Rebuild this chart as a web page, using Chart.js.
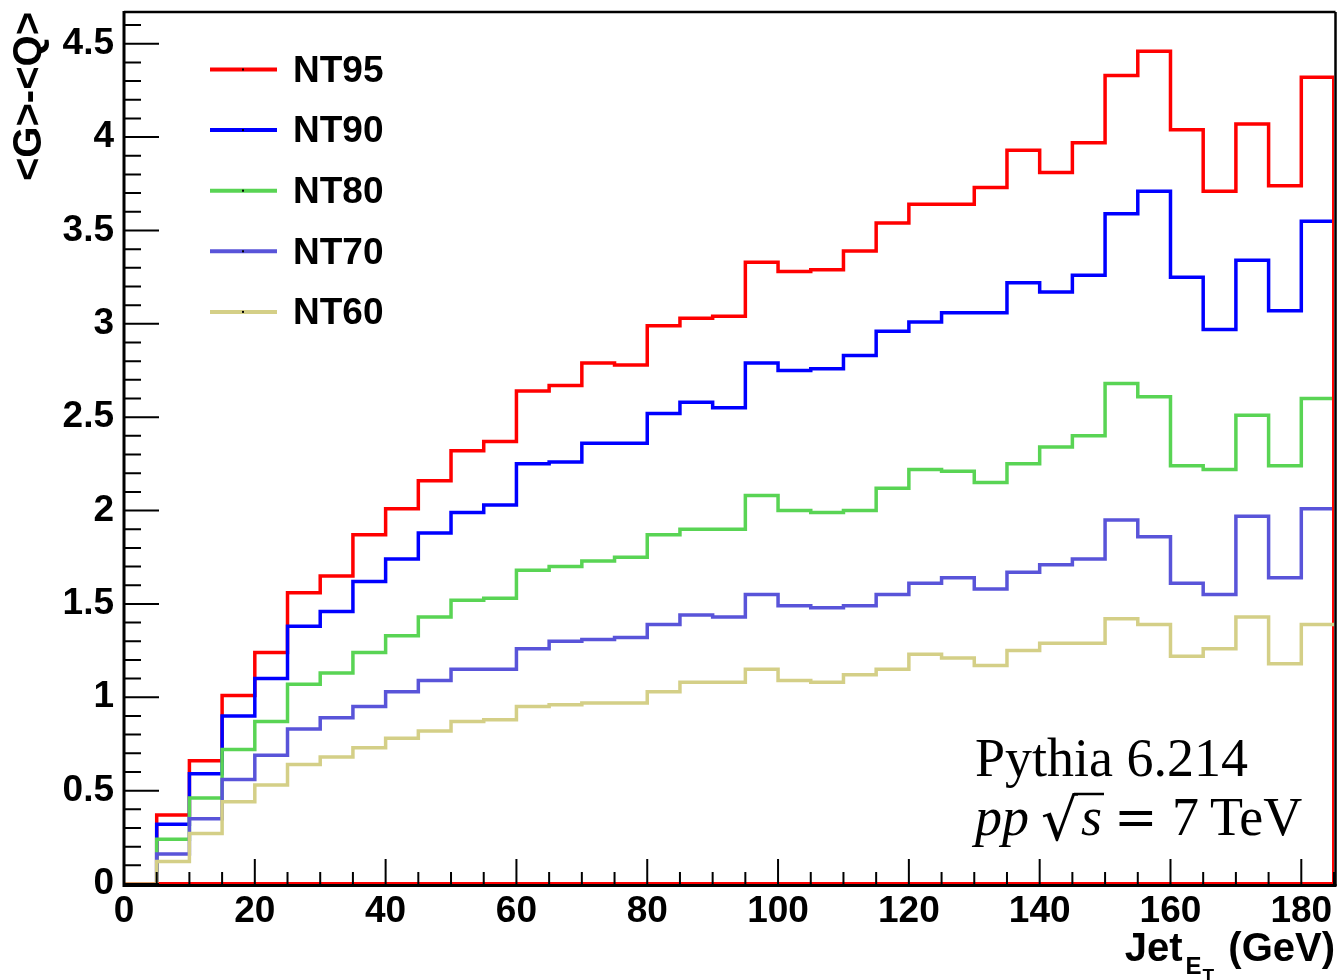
<!DOCTYPE html>
<html>
<head>
<meta charset="utf-8">
<title>Jet ET</title>
<script src="https://cdn.jsdelivr.net/npm/chart.js@4.4.0/dist/chart.umd.min.js"></script>
<style>
  html, body { margin: 0; padding: 0; background: #fff; }
  #wrap { width: 1341px; height: 980px; }
</style>
</head>
<body>
<div id="wrap"><canvas id="jetChart" width="1341" height="980"></canvas></div>
<script>
// bin edges in GeV (5 GeV bins)
const binEdges = [0, 5, 10, 15, 20, 25, 30, 35, 40, 45, 50, 55, 60, 65, 70, 75, 80, 85, 90,
  95, 100, 105, 110, 115, 120, 125, 130, 135, 140, 145, 150, 155, 160, 165, 170, 175, 180, 185];

const seriesNames = ["NT95", "NT90", "NT80", "NT70", "NT60"];
const seriesColors = ["#ff0000", "#0000ff", "#59d454", "#5954d9", "#d4cf87"];

// bin contents, one value per bin
const nt95 = [0, 0.37, 0.66, 1.01, 1.24, 1.56, 1.65, 1.87, 2.01, 2.16, 2.32, 2.37, 2.64, 2.67, 2.79,
  2.78, 2.99, 3.03, 3.04, 3.33, 3.28, 3.29, 3.39, 3.54, 3.64, 3.64, 3.73, 3.93, 3.81, 3.97,
  4.33, 4.46, 4.04, 3.71, 4.07, 3.74, 4.32];
const nt90 = [0, 0.32, 0.59, 0.90, 1.10, 1.38, 1.46, 1.62, 1.74, 1.88, 1.99, 2.03, 2.25, 2.26, 2.36,
  2.36, 2.52, 2.58, 2.55, 2.79, 2.75, 2.76, 2.83, 2.96, 3.01, 3.06, 3.06, 3.22, 3.17, 3.26,
  3.59, 3.71, 3.25, 2.97, 3.34, 3.07, 3.55];
const nt80 = [0, 0.24, 0.46, 0.72, 0.87, 1.07, 1.13, 1.24, 1.33, 1.43, 1.52, 1.53, 1.68, 1.70, 1.73,
  1.75, 1.87, 1.90, 1.90, 2.08, 2.00, 1.99, 2.00, 2.12, 2.22, 2.21, 2.15, 2.25, 2.34, 2.40,
  2.68, 2.61, 2.24, 2.22, 2.51, 2.24, 2.60];
const nt70 = [0, 0.16, 0.35, 0.56, 0.69, 0.83, 0.89, 0.95, 1.03, 1.09, 1.15, 1.15, 1.26, 1.30, 1.31,
  1.32, 1.39, 1.44, 1.43, 1.55, 1.49, 1.48, 1.49, 1.55, 1.61, 1.64, 1.58, 1.67, 1.71, 1.74,
  1.95, 1.86, 1.61, 1.55, 1.97, 1.64, 2.01];
const nt60 = [0, 0.12, 0.27, 0.44, 0.53, 0.64, 0.68, 0.73, 0.78, 0.82, 0.87, 0.88, 0.95, 0.96, 0.97,
  0.97, 1.03, 1.08, 1.08, 1.15, 1.09, 1.08, 1.12, 1.15, 1.23, 1.21, 1.17, 1.25, 1.29, 1.29,
  1.42, 1.39, 1.22, 1.26, 1.43, 1.18, 1.39];

const seriesValues = [nt95, nt90, nt80, nt70, nt60];

const yMax = 4.67;
const SANS = '"Liberation Sans", Arial, Helvetica, sans-serif';
const SERIF = '"Liberation Serif", "Times New Roman", serif';
const MATH = '"DejaVu Serif", serif';

// step outline: one point per bin low edge, plus the closing upper edge
function histPoints(values) {
  const pts = values.map((v, i) => ({ x: binEdges[i], y: v }));
  pts.push({ x: binEdges[binEdges.length - 1], y: values[values.length - 1] });
  return pts;
}

const datasets = seriesValues.map((vals, i) => ({
  label: seriesNames[i],
  data: histPoints(vals),
  borderColor: seriesColors[i],
  borderWidth: 3.5,
  stepped: "before",
  pointRadius: 0,
  fill: false,
  order: 5 - i
}));

// the first histogram also closes down the right edge and runs along the baseline
const lastEdge = binEdges[binEdges.length - 1];
datasets.push({
  label: "edge",
  data: [{ x: lastEdge, y: nt95[nt95.length - 1] }, { x: lastEdge, y: 0 }, { x: binEdges[0], y: 0 }],
  borderColor: seriesColors[0],
  borderWidth: 4,
  pointRadius: 0,
  fill: false,
  order: 1.5
});

const frameTicks = {
  id: "frameTicks",
  afterDatasetsDraw(chart) {
    const { ctx, chartArea: a, scales: { x, y } } = chart;
    ctx.save();
    ctx.strokeStyle = "#000";
    ctx.lineWidth = 2;
    ctx.beginPath();
    for (let k = 0; k <= 46; k++) {
      const py = y.getPixelForValue(k / 10);
      const len = k % 5 === 0 ? 35 : 17;
      ctx.moveTo(a.left, py);
      ctx.lineTo(a.left + len, py);
    }
    for (let k = 0; k <= 37; k++) {
      const px = x.getPixelForValue(k * 5);
      const len = (k * 5) % 20 === 0 ? 25 : 12;
      ctx.moveTo(px, a.bottom);
      ctx.lineTo(px, a.bottom - len);
    }
    ctx.stroke();
    ctx.lineWidth = 2.5;
    ctx.beginPath();
    ctx.moveTo(a.left, a.top);
    ctx.lineTo(a.right + 1.5, a.top);
    ctx.moveTo(a.right + 1.5, a.top);
    ctx.lineTo(a.right + 1.5, a.bottom + 2);
    ctx.stroke();
    ctx.lineWidth = 3;
    ctx.beginPath();
    ctx.moveTo(a.left, a.top - 1);
    ctx.lineTo(a.left, a.bottom + 3);
    ctx.moveTo(a.left - 1.5, a.bottom + 1.5);
    ctx.lineTo(a.right + 2.5, a.bottom + 1.5);
    ctx.stroke();
    ctx.restore();
  }
};

const legendBox = {
  id: "legendBox",
  afterDraw(chart) {
    const ctx = chart.ctx;
    ctx.save();
    ctx.font = "bold 37px " + SANS;
    ctx.textBaseline = "middle";
    ctx.fillStyle = "#000";
    seriesNames.forEach((name, i) => {
      const ly = 69.5 + 60.6 * i;
      ctx.strokeStyle = seriesColors[i];
      ctx.lineWidth = 4;
      ctx.beginPath();
      ctx.moveTo(210, ly);
      ctx.lineTo(277, ly);
      ctx.stroke();
      ctx.fillRect(242, ly - 1, 2, 2);
      ctx.fillText(name, 293, ly + 2);
    });
    ctx.restore();
  }
};

const textBits = {
  id: "textBits",
  afterDraw(chart) {
    const ctx = chart.ctx;
    ctx.save();
    ctx.fillStyle = "#000";
    ctx.strokeStyle = "#000";
    ctx.textBaseline = "alphabetic";

    // x axis title with nested subscript, right aligned to the frame
    const parts = [
      { t: "Jet", f: "bold 40px " + SANS, dy: 0, gap: 3 },
      { t: "E", f: "bold 24px " + SANS, dy: 13, gap: 1 },
      { t: "T", f: "bold 19px " + SANS, dy: 21, gap: 3 },
      { t: " (GeV)", f: "bold 40px " + SANS, dy: 0, gap: 0 }
    ];
    let total = 0;
    parts.forEach(p => { ctx.font = p.f; p.w = ctx.measureText(p.t).width + p.gap; total += p.w; });
    let cx = 1335 - total;
    parts.forEach(p => { ctx.font = p.f; ctx.fillText(p.t, cx, 961 + p.dy); cx += p.w; });

    // generator note
    ctx.font = "54px " + SERIF;
    ctx.fillText("Pythia 6.214", 975, 776);
    ctx.font = "italic 54px " + SERIF;
    ctx.fillText("pp", 975, 835);
    ctx.font = "58px " + MATH;
    ctx.fillText("\u221A", 1041, 840);
    ctx.lineWidth = 2.5;
    ctx.beginPath();
    ctx.moveTo(1074, 794);
    ctx.lineTo(1104, 794);
    ctx.stroke();
    ctx.font = "italic 54px " + SERIF;
    ctx.fillText("s", 1081, 835);
    ctx.font = "52px " + MATH;
    ctx.fillText("=", 1114, 835);
    ctx.font = "54px " + SERIF;
    ctx.fillText("7", 1172, 835);
    ctx.fillText("TeV", 1210, 835);
    ctx.restore();
  }
};

new Chart(document.getElementById("jetChart").getContext("2d"), {
  type: "line",
  data: { datasets },
  options: {
    responsive: false,
    animation: false,
    devicePixelRatio: 1,
    layout: { padding: { top: 12, right: 7, left: 0, bottom: 0 } },
    plugins: { legend: { display: false }, tooltip: { enabled: false } },
    scales: {
      x: {
        type: "linear",
        min: 0,
        max: 185,
        grid: { display: false, drawTicks: false },
        border: { display: false },
        ticks: {
          stepSize: 20,
          includeBounds: false,
          maxRotation: 0,
          autoSkip: false,
          padding: 6,
          color: "#000",
          font: { family: SANS, size: 37, weight: "bold" }
        },
        afterFit(scale) {
          scale.height = 96;
          scale.paddingLeft = 0;
          scale.paddingRight = 0;
        }
      },
      y: {
        type: "linear",
        min: 0,
        max: yMax,
        grid: { display: false, drawTicks: false },
        border: { display: false },
        ticks: {
          stepSize: 0.5,
          includeBounds: false,
          autoSkip: false,
          padding: 10,
          color: "#000",
          font: { family: SANS, size: 37, weight: "bold" },
          callback: v => String(Math.round(v * 10) / 10)
        },
        title: {
          display: true,
          text: "<G>-<Q>",
          align: "end",
          color: "#000",
          padding: { top: 6, bottom: 0 },
          font: { family: SANS, size: 40, weight: "bold" }
        },
        afterFit(scale) {
          scale.width = 124;
          scale.paddingTop = 0;
          scale.paddingBottom = 0;
        }
      }
    }
  },
  plugins: [frameTicks, legendBox, textBits]
});
</script>
</body>
</html>
